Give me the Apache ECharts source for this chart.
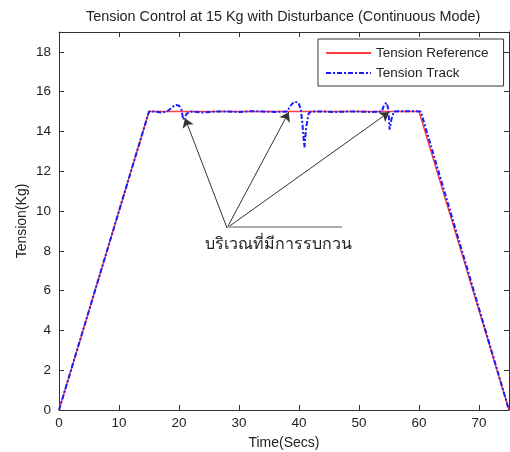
<!DOCTYPE html>
<html>
<head>
<meta charset="utf-8">
<script src="https://cdn.jsdelivr.net/npm/echarts@6/dist/echarts.min.js"></script>
<style>
html,body{margin:0;padding:0;background:#fff;}
#main{width:510px;height:452px;}
</style>
</head>
<body>
<div id="main"></div>
<script>
// reference profile
var refTime=[0,15,60,75]
var refTension=[0,15,15,0]
var trackTime=[0,15,16,17,18,19,19.5,20,20.4,20.7,21,21.3,22,24,26,28,30,32,34,36,38,38.6,39.2,39.9,40.3,40.6,40.9,41.2,41.6,42,44,46,48,50,52,53.8,54.2,54.6,54.9,55.1,55.4,55.8,57,59,60.3,75]
var trackTension=[0,15,15.0,14.95,15.0,15.25,15.33,15.3,15.1,14.6,14.55,14.9,15.0,14.95,15.0,15.0,14.98,15.02,15.0,14.98,15.0,15.3,15.5,15.45,15.1,14.3,13.2,14.2,14.9,15.0,15.0,14.98,15.0,15.0,14.98,15.0,15.35,15.45,15.1,14.1,14.6,15.0,15.02,15.02,15.0,0]

var refData=[]
for(var i=0;i<refTime.length;i++){
	refData.push([refTime[i],refTension[i]])
}
var trackData=[]
for(var i=0;i<trackTime.length;i++){
	trackData.push([trackTime[i],trackTension[i]])
}

var font='"Liberation Sans", Arial, sans-serif'
// axis look shared by all four sides of the box
function boxAxis(pos,max,iv){
	return {
		type:'value',
		position:pos,
		min:0,max:max,interval:iv,
		axisLine:{show:true,onZero:false,lineStyle:{color:'#333'}},
		axisTick:{show:true,inside:true,length:5,lineStyle:{color:'#333'}},
		axisLabel:{show:false},
		splitLine:{show:false}
	}
}
var xBottom=boxAxis('bottom',75,10)
xBottom.name='Time(Secs)'
xBottom.nameLocation='middle'
xBottom.nameGap=26
xBottom.nameMoveOverlap=false
xBottom.nameTextStyle={fontSize:14,color:'#222'}
xBottom.axisLabel={show:true,fontSize:13.5,color:'#222',margin:6,showMaxLabel:false}
var yLeft=boxAxis('left',19,2)
yLeft.name='Tension(Kg)'
yLeft.nameLocation='middle'
yLeft.nameGap=30
yLeft.nameMoveOverlap=false
yLeft.nameTextStyle={fontSize:14,color:'#222'}
yLeft.axisLabel={show:true,fontSize:13.5,color:'#222',margin:8,showMaxLabel:false}

// legend line samples: solid, and dash-dot like the track
var iconSolid='path://M0,0H45V2H0Z'
var iconDashDot='path://M0,0h5v2h-5z M7,0h2v2h-2z M11,0h5v2h-5z M18,0h2v2h-2z M22,0h5v2h-5z M29,0h2v2h-2z M33,0h5v2h-5z M40,0h2v2h-2z M44,0h1v2h-1z'

var mychart=echarts.init(document.getElementById('main'));
var option={
	animation:false,
	textStyle:{fontFamily:font},
	title:{
		text:'Tension Control at 15 Kg with Disturbance (Continuous Mode)',
		left:81,
		top:5,
		textStyle:{fontSize:14.4,fontWeight:'normal',color:'#222',fontFamily:font}
	},
	grid:{left:59,right:1,top:32,bottom:42,containLabel:false,outerBoundsMode:'none'},
	legend:{
		orient:'vertical',
		left:318,
		top:39,
		padding:[7,15,6,8],
		itemGap:6,
		itemWidth:45,
		itemHeight:2,
		backgroundColor:'#fff',
		borderColor:'#333',
		borderWidth:1,
		textStyle:{fontSize:13.5,color:'#222',fontFamily:font},
		data:[
			{name:'Tension Reference',icon:iconSolid},
			{name:'Tension Track',icon:iconDashDot}
		]
	},
	xAxis:[xBottom,boxAxis('top',75,10)],
	yAxis:[yLeft,boxAxis('right',19,2)],
	graphic:[{
		type:'text',
		left:205,
		top:237,
		style:{text:'บริเวณที่มีการรบกวน',fontSize:16,fill:'#222',fontFamily:'Tahoma, "DejaVu Sans", sans-serif'}
	}],
	series:[{
		name:'Tension Reference',
		type:'line',
		symbol:'none',
		color:'#ff4040',
		lineStyle:{color:'#ff4040',width:1.5},
		data:refData,
		z:2,
		markLine:{
			silent:true,
			symbol:['none','arrow'],
			symbolSize:9,
			label:{show:false},
			lineStyle:{color:'#333',width:1,type:'solid'},
			data:[
				[{coord:[28,9.15]},{coord:[21,14.67]}],
				[{coord:[28,9.15]},{coord:[38.3,14.97]}],
				[{coord:[28,9.15]},{coord:[55,14.97]}],
				[{coord:[28,9.2],symbol:'none'},{coord:[47.2,9.2],symbol:'none',lineStyle:{color:'#aaa',width:2}}]
			]
		}
	},{
		name:'Tension Track',
		type:'line',
		symbol:'none',
		color:'#1a1aff',
		lineStyle:{color:'#1a1aff',width:2,type:[5,2,2,2]},
		data:trackData,
		z:3
	}]
};
mychart.setOption(option);
</script>
</body>
</html>
